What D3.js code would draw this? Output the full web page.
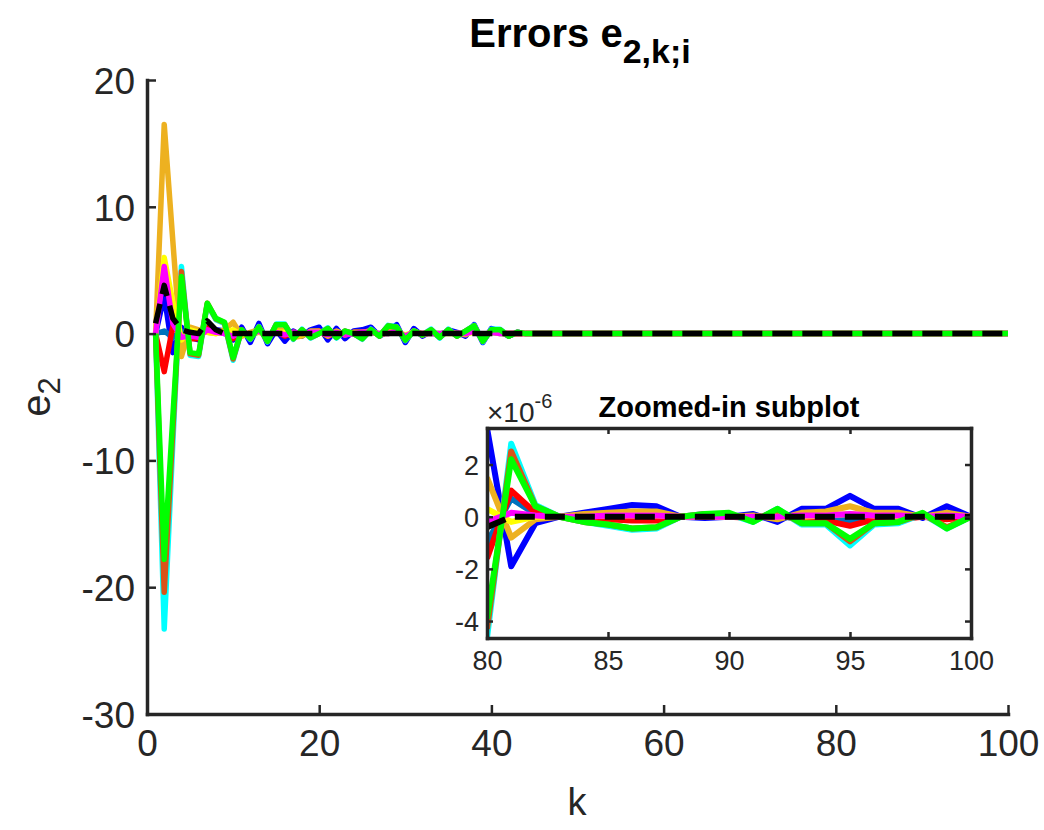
<!DOCTYPE html>
<html>
<head>
<meta charset="utf-8">
<script src="https://cdn.jsdelivr.net/npm/d3@7"></script>
<style>
  body { margin: 0; background: #fff; }
  svg text { font-family: "Liberation Sans", Arial, Helvetica, sans-serif; }
</style>
</head>
<body>
<svg id="chart" width="1044" height="830"></svg>
<script>
// iteration index k = 1..100
const k = d3.range(1, 101);

// tick values
const xTicksMain = [0, 20, 40, 60, 80, 100];
const yTicksMain = [-30, -20, -10, 0, 10, 20];
const xTicksInset = [80, 85, 90, 95, 100];
const yTicksInset = [-4, -2, 0, 2];

// e2 for k = 1..45 (transient part)
const blueEarly   = [0, 3.0, -1.5, 0.5, -0.3, -0.5, 0.6, 0.3, 0.2, -0.5, 0.5, -0.7, 0.8, -0.8, 0.3, -0.6, 0.2, -0.2, 0.3, 0.5, -0.5, 0.4, -0.4, 0.2, 0.3, 0.5, -0.2, 0.2, 0.7, -0.7, 0.4, -0.2, 0.2, -0.3, 0.3, 0.1, -0.2, 0.7, -0.7, 0.4, 0.2, -0.2, 0.1, 0, 0];
const steelEarly  = [0, 0.2, -0.3, 0.2, -0.2, -0.2, 0.3, 0.1, 0, -0.3, 0.2, -0.2, 0.2, -0.2, 0.1, -0.1, 0.1, 0, 0.1, 0.1, -0.1, 0.1, -0.1, 0, 0.1, 0.1, 0, 0, 0.2, -0.2, 0.1, 0, 0, 0, 0.1, 0, 0, 0.2, -0.2, 0.1, 0, 0, 0, 0, 0];
const redEarly    = [0, -3.0, 0.6, -0.2, -0.4, -0.4, 0.5, 0.2, 0.1, -0.4, 0.2, -0.2, 0.3, -0.3, 0.2, -0.2, 0.1, 0, 0.1, 0.2, -0.2, 0.1, -0.1, 0.1, 0.1, 0.2, -0.1, 0.1, 0.3, -0.3, 0.1, 0, 0.1, -0.1, 0.1, 0, 0, 0.3, -0.3, 0.1, 0.1, 0, 0, 0, 0];
const rustEarly   = [0, -20.4, -7.6, 4.9, -1.6, -1.7, 2.4, 1.15, 0.85, -2.0, 0.3, -0.4, 0.5, -0.6, 0.7, 0.7, -0.4, 0.3, -0.3, 0, 0.4, -0.3, 0.2, 0, -0.4, 0.3, -0.2, 0.6, 0.5, -0.5, 0.2, -0.1, 0.3, -0.3, 0.3, -0.2, 0.2, 0.6, -0.6, 0.3, 0.3, -0.2, 0.1, 0, 0];
const goldEarly   = [0, 16.5, 7.3, -1.8, 0.5, 0.3, 0.1, 0, 0.3, 0.9, -0.2, 0.1, 0.3, -0.3, 0.3, 0.2, -0.3, -0.2, 0.2, 0.2, -0.2, 0.2, -0.1, 0.1, 0.1, 0.2, -0.1, 0.1, 0.3, -0.3, 0.2, -0.1, 0.1, -0.1, 0.1, 0, -0.1, 0.3, -0.3, 0.2, 0.1, -0.1, 0, 0, 0];
const magentaEarly= [0, 5.3, 0.8, -0.3, -0.2, -0.3, 0.3, 0.1, 0, -0.2, 0.1, -0.1, 0.2, -0.2, 0.1, -0.1, 0.1, 0, 0.1, 0.1, -0.1, 0.1, -0.1, 0, 0.1, 0.1, 0, 0, 0.2, -0.2, 0.1, 0, 0, 0, 0.1, 0, 0, 0.2, -0.2, 0.1, 0, 0, 0, 0, 0];
const yellowEarly = [0, 6.0, 2.5, -0.5, 0.3, 0.1, 0.1, 0, 0.1, 0.3, -0.1, 0, 0.1, -0.1, 0.1, 0.1, -0.1, -0.1, 0.1, 0.1, -0.1, 0.1, 0, 0, 0, 0.1, 0, 0, 0.1, -0.1, 0.1, 0, 0, 0, 0, 0, 0, 0.1, -0.1, 0.1, 0, 0, 0, 0, 0];
const cyanEarly   = [0, -23.3, -8.6, 5.3, -1.7, -1.8, 2.3, 1.1, 0.8, -2.1, 0.3, -0.45, 0.55, -0.65, 0.75, 0.75, -0.45, 0.35, -0.35, 0, 0.45, -0.35, 0.2, 0, -0.45, 0.35, -0.2, 0.65, 0.55, -0.55, 0.2, -0.1, 0.35, -0.35, 0.35, -0.2, 0.2, 0.65, -0.65, 0.35, 0.35, -0.2, 0.1, 0, 0];
const greenEarly  = [0, -17.8, -6.6, 4.5, -1.5, -1.6, 2.4, 1.2, 0.9, -1.9, 0.3, -0.4, 0.5, -0.6, 0.7, 0.7, -0.4, 0.3, -0.3, 0, 0.4, -0.3, 0.2, 0, -0.4, 0.3, -0.2, 0.6, 0.5, -0.5, 0.2, -0.1, 0.3, -0.3, 0.3, -0.2, 0.2, 0.6, -0.6, 0.3, 0.3, -0.2, 0.1, 0, 0];
const meanEarly   = [0.8, 3.8, 1.2, 0.3, 0.1, 0, 1.0, 0.3, 0, 0, 0, 0, 0, 0, 0, 0, 0, 0, 0, 0, 0, 0, 0, 0, 0, 0, 0, 0, 0, 0, 0, 0, 0, 0, 0, 0, 0, 0, 0, 0, 0, 0, 0, 0, 0];

// k = 46..79: settled, zero at the scale of the main axes
const settled = [0, 0, 0, 0, 0, 0, 0, 0, 0, 0, 0, 0, 0, 0, 0, 0, 0, 0, 0, 0, 0, 0, 0, 0, 0, 0, 0, 0, 0, 0, 0, 0, 0, 0];

// e2 for k = 80..100, in units of 1e-6
const blueLate    = [3.4, -1.9, -0.25, 0, 0.15, 0.3, 0.45, 0.4, 0, -0.05, 0, 0.1, -0.2, 0.3, 0.3, 0.8, 0.3, 0.3, -0.05, 0.4, 0];
const steelLate   = [-1.0, 0.7, 0.1, 0, 0, -0.05, -0.1, -0.1, 0, 0, 0, 0, 0, -0.05, -0.05, -0.15, -0.05, -0.05, 0, -0.05, 0];
const redLate     = [-1.6, 1.0, 0.15, 0, -0.05, -0.1, -0.15, -0.15, 0, 0, 0, -0.05, 0.05, -0.1, -0.15, -0.35, -0.1, -0.1, 0, -0.1, 0];
const rustLate    = [-4.3, 2.5, 0.4, 0, -0.2, -0.3, -0.45, -0.4, 0, 0.1, 0.1, -0.15, 0.25, -0.25, -0.25, -0.95, -0.25, -0.2, 0.1, -0.4, 0];
const goldLate    = [1.5, -0.8, -0.1, 0, 0.1, 0.15, 0.2, 0.2, 0, 0, 0, 0.05, -0.1, 0.15, 0.2, 0.4, 0.15, 0.15, 0, 0.15, 0];
const magentaLate = [-0.2, 0.15, 0.05, 0, 0, 0.05, 0.05, 0.05, 0, 0, 0, 0, 0, 0.05, 0.05, 0.1, 0.05, 0.05, 0, 0.05, 0];
const yellowLate  = [0.3, -0.2, 0, 0, 0, 0.05, 0.05, 0.05, 0, 0, 0, 0, 0, 0, 0.05, 0.1, 0.05, 0, 0, 0.05, 0];
const cyanLate    = [-4.65, 2.8, 0.45, 0, -0.2, -0.35, -0.5, -0.45, 0, 0.1, 0.1, -0.2, 0.3, -0.3, -0.3, -1.1, -0.3, -0.25, 0.1, -0.45, 0];
const greenLate   = [-3.9, 2.2, 0.4, 0, -0.2, -0.3, -0.45, -0.4, 0, 0.1, 0.15, -0.2, 0.3, -0.25, -0.25, -0.85, -0.25, -0.2, 0.15, -0.45, 0];
const meanLate    = [-0.4, 0, 0, 0, 0, 0, 0, 0, 0, 0, 0, 0, 0, 0, 0, 0, 0, 0, 0, 0, 0];

const insetExp = 1e-6;

// series, in drawing order
const series = [
  { early: blueEarly,    late: blueLate,    color: "#0000FF" },
  { early: steelEarly,   late: steelLate,   color: "#0072BD" },
  { early: redEarly,     late: redLate,     color: "#FF0000" },
  { early: cyanEarly,    late: cyanLate,    color: "#00FFFF" },
  { early: rustEarly,    late: rustLate,    color: "#D95319" },
  { early: goldEarly,    late: goldLate,    color: "#EDB120" },
  { early: yellowEarly,  late: yellowLate,  color: "#FFFF00" },
  { early: magentaEarly, late: magentaLate, color: "#FF00FF" },
  { early: greenEarly,   late: greenLate,   color: "#00FF00" },
  { early: meanEarly,    late: meanLate,    color: "#000000", dashed: true }
].map(s => ({
  ...s,
  values: s.early.concat(settled, s.late.map(v => v * insetExp))
}));

const svg = d3.select("#chart");
const axisColor = "#262626";
const plain = d => String(d);

// ---------- main axes ----------
const x = d3.scaleLinear().domain([0, 100]).range([147, 1008]);
const y = d3.scaleLinear().domain([-30, 20]).range([714, 80]);

const main = svg.append("g");

const line = d3.line().x((d, i) => x(k[i])).y(d => y(d));

main.append("g").selectAll("path").data(series).join("path")
  .attr("d", s => line(s.values))
  .attr("fill", "none")
  .attr("stroke", s => s.color)
  .attr("stroke-width", 5.5)
  .attr("stroke-linejoin", "round")
  .attr("stroke-dasharray", s => s.dashed ? "20,10" : null);

const xAxis = main.append("g")
  .attr("transform", `translate(0,${y(-30)})`)
  .call(d3.axisBottom(x).tickValues(xTicksMain).tickSizeInner(-9).tickSizeOuter(0).tickPadding(12).tickFormat(plain));
const yAxis = main.append("g")
  .attr("transform", `translate(${x(0)},0)`)
  .call(d3.axisLeft(y).tickValues(yTicksMain).tickSizeInner(-9).tickSizeOuter(0).tickPadding(12).tickFormat(plain));

[xAxis, yAxis].forEach(g => {
  g.select(".domain").attr("stroke", axisColor).attr("stroke-width", 3.5).attr("stroke-linecap", "square");
  g.selectAll(".tick line").attr("stroke", axisColor).attr("stroke-width", 2.5);
  g.selectAll(".tick text").attr("fill", axisColor).style("font-size", "37px");
});
xAxis.selectAll(".tick text").attr("dy", "0.8em");
yAxis.selectAll(".tick text").attr("dy", "0.36em");

// title
const title = svg.append("text")
  .attr("x", 580).attr("y", 47)
  .attr("text-anchor", "middle")
  .attr("fill", "#000")
  .style("font-size", "40px").style("font-weight", "bold");
title.append("tspan").text("Errors e");
title.append("tspan").attr("dy", 16).style("font-size", "34px").text("2,k;i");

// axis labels
svg.append("text")
  .attr("x", 577).attr("y", 815)
  .attr("text-anchor", "middle")
  .attr("fill", axisColor)
  .style("font-size", "38px")
  .text("k");

const yl = svg.append("text")
  .attr("transform", `translate(50,${(y(20) + y(-30)) / 2}) rotate(-90)`)
  .attr("text-anchor", "middle")
  .attr("fill", axisColor)
  .style("font-size", "40px");
yl.append("tspan").text("e");
yl.append("tspan").attr("dy", 10).style("font-size", "31px").text("2");

// ---------- inset ----------
const xi = d3.scaleLinear().domain([80, 100]).range([487, 971]);
const insetValues = series.flatMap(s => s.late);
const yi = d3.scaleLinear().domain(d3.extent(insetValues)).range([638, 428]);

const inset = svg.append("g");
inset.append("rect")
  .attr("x", xi(80)).attr("y", yi.range()[1])
  .attr("width", xi(100) - xi(80)).attr("height", yi.range()[0] - yi.range()[1])
  .attr("fill", "#fff");

svg.append("defs").append("clipPath").attr("id", "insetClip")
  .append("rect")
  .attr("x", xi(80)).attr("y", yi.range()[1])
  .attr("width", xi(100) - xi(80)).attr("height", yi.range()[0] - yi.range()[1]);

const kLate = k.slice(79);
const lineInset = d3.line().x((d, i) => xi(kLate[i])).y(d => yi(d));

inset.append("g").attr("clip-path", "url(#insetClip)")
  .selectAll("path").data(series).join("path")
  .attr("d", s => lineInset(s.late))
  .attr("fill", "none")
  .attr("stroke", s => s.color)
  .attr("stroke-width", 6)
  .attr("stroke-linejoin", "round")
  .attr("stroke-dasharray", s => s.dashed ? "20,10" : null);

const ixB = inset.append("g").attr("transform", `translate(0,${yi.range()[0]})`)
  .call(d3.axisBottom(xi).tickValues(xTicksInset).tickSizeInner(-6).tickSizeOuter(0).tickPadding(10).tickFormat(plain));
const ixT = inset.append("g").attr("transform", `translate(0,${yi.range()[1]})`)
  .call(d3.axisTop(xi).tickValues(xTicksInset).tickSizeInner(-6).tickSizeOuter(0).tickFormat(""));
const iyL = inset.append("g").attr("transform", `translate(${xi(80)},0)`)
  .call(d3.axisLeft(yi).tickValues(yTicksInset).tickSizeInner(-6).tickSizeOuter(0).tickPadding(8).tickFormat(plain));
const iyR = inset.append("g").attr("transform", `translate(${xi(100)},0)`)
  .call(d3.axisRight(yi).tickValues(yTicksInset).tickSizeInner(-6).tickSizeOuter(0).tickFormat(""));

[ixB, ixT, iyL, iyR].forEach(g => {
  g.select(".domain").attr("stroke", axisColor).attr("stroke-width", 3.5).attr("stroke-linecap", "square");
  g.selectAll(".tick line").attr("stroke", axisColor).attr("stroke-width", 2.5);
  g.selectAll(".tick text").attr("fill", axisColor).style("font-size", "27px");
});
ixB.selectAll(".tick text").attr("dy", "0.8em");
iyL.selectAll(".tick text").attr("dy", "0.36em");

// exponent label
const ex = inset.append("text")
  .attr("x", xi(80)).attr("y", 422)
  .attr("fill", axisColor)
  .style("font-size", "28px");
ex.append("tspan").text("\u00D710");
ex.append("tspan").attr("dy", -14).style("font-size", "20px").text("-6");

// inset title
inset.append("text")
  .attr("x", (xi(80) + xi(100)) / 2).attr("y", 417)
  .attr("text-anchor", "middle")
  .attr("fill", "#000")
  .style("font-size", "29px").style("font-weight", "bold")
  .text("Zoomed-in subplot");
</script>
</body>
</html>
